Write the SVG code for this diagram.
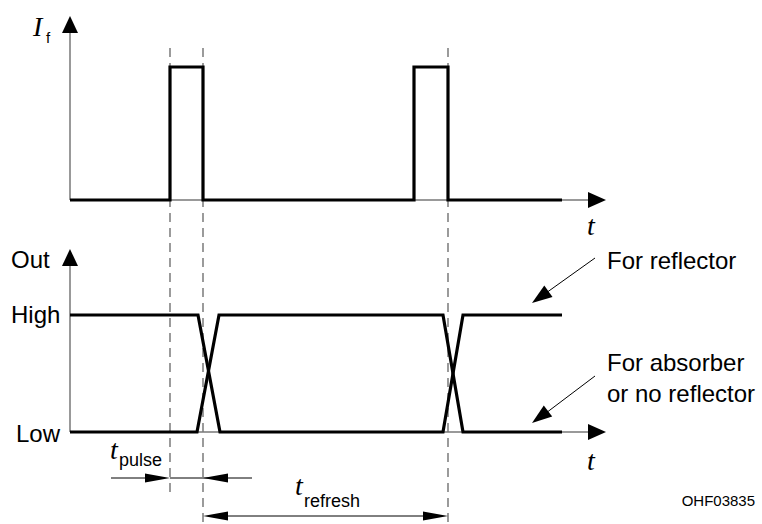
<svg xmlns="http://www.w3.org/2000/svg" width="762" height="524" viewBox="0 0 762 524">
<style>
.axis{stroke:#777;stroke-width:1.5;fill:none}
.sig{stroke:#000;stroke-width:3.2;fill:none;stroke-linejoin:miter;stroke-linecap:butt}
.dash{stroke:#666;stroke-width:1.3;stroke-dasharray:9,6;fill:none}
.thin{stroke:#000;stroke-width:1;fill:none}
.head{fill:#000;stroke:none}
.sans{font-family:"Liberation Sans",Arial,sans-serif;fill:#000}
.ital{font-family:"Liberation Serif","Times New Roman",serif;font-style:italic;fill:#000}
</style>
<rect width="762" height="524" fill="#fff"/>
<g id="guides">
<line class="dash" x1="170" y1="48" x2="170" y2="494"/>
<line class="dash" x1="203" y1="48" x2="203" y2="522"/>
<line class="dash" x1="448" y1="48" x2="448" y2="522"/>
</g>
<g id="axes">
<line class="axis" x1="70" y1="30" x2="70" y2="200"/>
<line class="axis" x1="70" y1="200" x2="592" y2="200"/>
<polygon class="head" points="70,16 62,33 78,33"/>
<polygon class="head" points="606,200 588,192 588,208"/>
<line class="axis" x1="70" y1="263" x2="70" y2="432"/>
<line class="axis" x1="70" y1="432" x2="592" y2="432"/>
<polygon class="head" points="70,249 62,266 78,266"/>
<polygon class="head" points="606,432 588,424 588,440"/>
</g>
<g id="pulse-signal">
<polyline class="sig" points="70,200 170,200 170,67 203,67 203,200 414,200 414,67 448,67 448,200 562,200"/>
</g>
<g id="out-signal">
<polyline class="sig" points="70,315 198,315 220,432 443,432 463,315 562,315"/>
<polyline class="sig" points="70,432 197,432 219,315 443,315 463,432 562,432"/>
</g>
<g id="connectors">
<line class="thin" x1="595" y1="258" x2="546" y2="293"/>
<polygon class="head" points="532,303 544.3,285.6 552.5,297"/>
<line class="thin" x1="595" y1="376" x2="546" y2="413"/>
<polygon class="head" points="532,423 543.8,405.4 552.2,416.6"/>
<line class="thin" x1="111" y1="478" x2="150" y2="478"/>
<polygon class="head" points="170,478 145,473.5 145,482.5"/>
<line class="thin" x1="170" y1="478" x2="252" y2="478"/>
<polygon class="head" points="203,478 228,473.5 228,482.5"/>
<line class="thin" x1="220" y1="516" x2="430" y2="516"/>
<polygon class="head" points="203,516 228,511.5 228,520.5"/>
<polygon class="head" points="448,516 423,511.5 423,520.5"/>
</g>
<g id="labels">
<text class="ital" x="33" y="36" font-size="28">I</text>
<text class="sans" x="46" y="43" font-size="15">f</text>
<text class="ital" x="587" y="235" font-size="28">t</text>
<text class="ital" x="587" y="470" font-size="28">t</text>
<text class="sans" x="11" y="268" font-size="24">Out</text>
<text class="sans" x="11" y="323" font-size="24">High</text>
<text class="sans" x="16" y="442" font-size="24">Low</text>
<text class="sans" x="607" y="269" font-size="24">For reflector</text>
<text class="sans" x="607" y="371" font-size="24">For absorber</text>
<text class="sans" x="607" y="402" font-size="24">or no reflector</text>
<text class="ital" x="110" y="459" font-size="28">t</text>
<text class="sans" x="119" y="466" font-size="18">pulse</text>
<text class="ital" x="295" y="495" font-size="28">t</text>
<text class="sans" x="304" y="507" font-size="18">refresh</text>
<text class="sans" x="755" y="506" font-size="15" text-anchor="end">OHF03835</text>
</g>
</svg>
